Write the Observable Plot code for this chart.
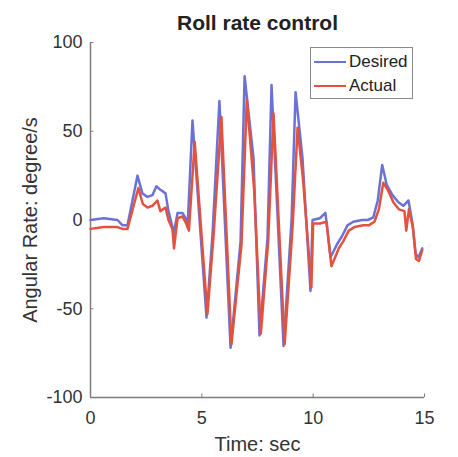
<!DOCTYPE html>
<html>
<head>
<meta charset="utf-8">
<script src="https://cdn.jsdelivr.net/npm/d3@7"></script>
<script src="https://cdn.jsdelivr.net/npm/@observablehq/plot@0.6"></script>
<style>
  html, body { margin: 0; padding: 0; background: #ffffff; }
  #wrap { position: relative; width: 458px; height: 457px; font-family: "Liberation Sans", Arial, sans-serif; }
  #legend { position: absolute; left: 310px; top: 47px; width: 103px; height: 52px; border: 1.5px solid #8a8a8a; background: #fff; box-sizing: border-box; }
  .item { position: absolute; left: 3px; height: 20px; display: flex; align-items: center; font-size: 17px; color: #222; }
  .sw { width: 32px; height: 2.4px; margin-right: 3px; }
</style>
</head>
<body>
<div id="wrap"></div>
<script>
const chartTitle = "Roll rate control";
const xLabel = "Time: sec";
const yLabel = "Angular Rate: degree/s";
const seriesNames = ["Desired", "Actual"];
const seriesColors = ["#6b72d6", "#e2523f"];
const xTicks = [0, 5, 10, 15];
const yTicks = [-100, -50, 0, 50, 100];
const xDomain = [0, 15];
const yDomain = [-100, 100];

const timeDesired = [0, 0.6, 1.21, 1.44, 1.66, 2.11, 2.33, 2.56, 2.78, 2.96, 3.14, 3.37, 3.5, 3.68, 3.73, 3.91, 4.13, 4.27, 4.36, 4.58, 5.21, 5.48, 5.79, 6.29, 6.74, 6.92, 7.32, 7.59, 7.95, 8.13, 8.67, 9.03, 9.21, 9.52, 9.88, 9.97, 10.3, 10.55, 10.78, 11.1, 11.3, 11.54, 11.8, 12.2, 12.45, 12.7, 12.9, 13.1, 13.3, 13.56, 13.83, 14.05, 14.28, 14.46, 14.6, 14.73, 14.9];
const desired = [0, 1, 0, -3, -3, 25, 15, 13, 14, 19, 17, 15, 5, -4, -8, 4, 4, 1, -4, 56, -55, -8, 67, -72, -12, 81, 35, -65, -10, 76, -71, 0, 72, 35, -40, 0, 1, 4, -21, -13, -9, -3, -1, 0, 0, 1.5, 11, 31, 20, 14, 10, 8, 11, -2, -19, -21, -16];

const timeActual = [0, 0.6, 1.21, 1.44, 1.66, 2.15, 2.35, 2.56, 2.78, 3.0, 3.14, 3.37, 3.5, 3.68, 3.75, 3.91, 4.13, 4.3, 4.42, 4.68, 5.25, 5.52, 5.88, 6.33, 6.78, 7.02, 7.35, 7.65, 7.98, 8.22, 8.72, 9.08, 9.3, 9.55, 9.92, 10.0, 10.3, 10.6, 10.82, 11.15, 11.35, 11.6, 11.85, 12.25, 12.5, 12.75, 12.95, 13.15, 13.35, 13.6, 13.85, 14.1, 14.18, 14.3, 14.48, 14.62, 14.75, 14.9];
const actual = [-5, -4, -4, -5, -5, 18, 9, 7, 8, 11, 5, 7, 0, -5, -16, 1, 2, -2, -6, 44, -53, -10, 58, -70, -14, 68, 17, -64, -12, 60, -70, -3, 52, 22, -38, -2, -2, -1, -26, -16, -12, -6, -4, -3, -3, -1, 6, 21, 17, 10, 6, 5, -6, 6, -4, -22, -23, -17];

const axisColor = "#7d7d7d";

const chart = Plot.plot({
  width: 458,
  height: 457,
  marginLeft: 90,
  marginRight: 34,
  marginTop: 42,
  marginBottom: 60,
  style: { fontFamily: "Liberation Sans, Arial, sans-serif", background: "transparent", color: "#333" },
  x: { domain: xDomain },
  y: { domain: yDomain },
  marks: [
    Plot.ruleX([xDomain[0]], { stroke: axisColor, strokeWidth: 1.5 }),
    Plot.ruleY([yDomain[0]], { stroke: axisColor, strokeWidth: 1.5 }),
    Plot.axisX({ ticks: xTicks, tickSize: 0, tickPadding: 14, fontSize: 18, label: null, fill: "#333", tickFormat: d => String(d) }),
    Plot.axisY({ ticks: yTicks, tickSize: 0, tickPadding: 8, fontSize: 18, label: null, fill: "#333", tickFormat: d => String(d) }),
    Plot.ruleY(yTicks, { y: d => d, x1: xDomain[0], x2: xDomain[0] + 0.15, stroke: axisColor }),
    Plot.ruleX(xTicks, { x: d => d, y1: yDomain[0], y2: yDomain[0] + 2, stroke: axisColor }),
    Plot.line(desired, { x: (d, i) => timeDesired[i], y: d => d, stroke: seriesColors[0], strokeWidth: 2.5 }),
    Plot.line(actual, { x: (d, i) => timeActual[i], y: d => d, stroke: seriesColors[1], strokeWidth: 2.5 }),
    Plot.text([chartTitle], { frameAnchor: "top", dy: -19, lineAnchor: "middle", fontSize: 21, fontWeight: "bold", fill: "#222" }),
    Plot.text([xLabel], { frameAnchor: "bottom", dy: 47, lineAnchor: "middle", fontSize: 20, fill: "#333" }),
    Plot.text([yLabel], { frameAnchor: "left", dx: -60, rotate: -90, textAnchor: "middle", lineAnchor: "middle", fontSize: 20, fill: "#333" })
  ]
});

const wrap = document.getElementById("wrap");
wrap.appendChild(chart);
const legend = document.createElement("div");
legend.id = "legend";
seriesNames.forEach((name, i) => {
  const it = document.createElement("div");
  it.className = "item";
  it.style.top = (4 + i * 24) + "px";
  const sw = document.createElement("div");
  sw.className = "sw";
  sw.style.background = seriesColors[i];
  it.appendChild(sw);
  const t = document.createElement("span");
  t.textContent = name;
  it.appendChild(t);
  legend.appendChild(it);
});
wrap.appendChild(legend);
</script>
</body>
</html>
